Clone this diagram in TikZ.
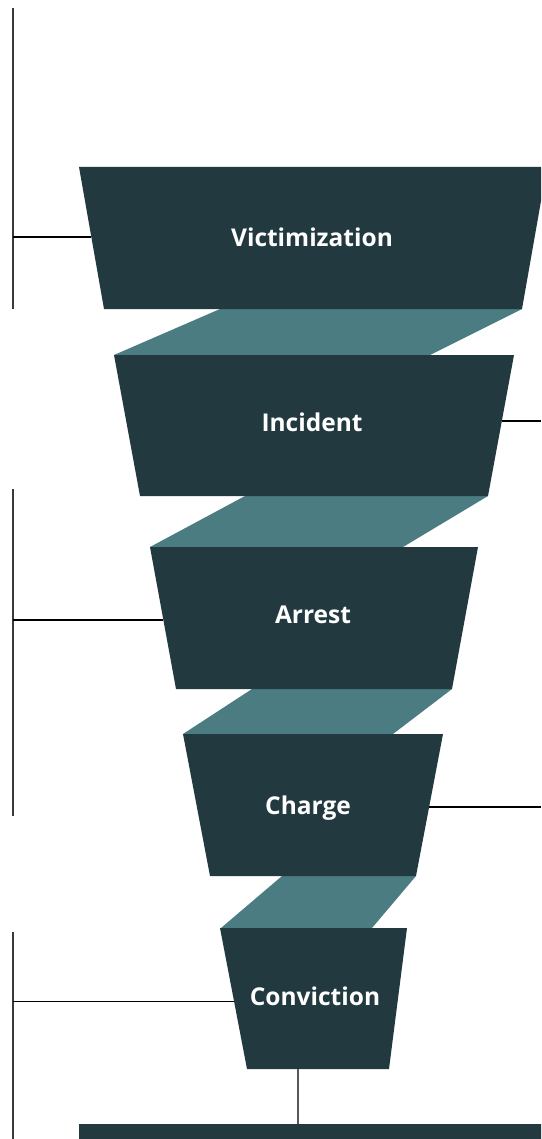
\documentclass[tikz,border=0pt]{standalone}
\usepackage{fontspec}
\setmainfont{Open Sans}
\usetikzlibrary{calc}
\definecolor{stagefill}{HTML}{223A3F}
\definecolor{linkfill}{HTML}{4A7C81}
\definecolor{rulegray}{HTML}{3A3A3A}
\begin{document}
\begin{tikzpicture}[x=1pt,y=-1pt,
  stage/.style={fill=stagefill},
  link/.style={fill=linkfill},
  stagelabel/.style={text=white,font=\bfseries\fontsize{24.5}{28}\selectfont,anchor=base,inner sep=0pt},
  bracket/.style={draw=rulegray,line width=1.3pt},
  leader/.style={draw=black,line width=1.1pt}]
\useasboundingbox (0,0) rectangle (541,1139);
\begin{scope}
\clip (0,0) rectangle (541,1139);
% connecting bands between stages
\fill[link] (220,309) -- (522,309) -- (430,355) -- (114,355) -- cycle;
\fill[link] (245,496) -- (488,496) -- (403,547) -- (150,547) -- cycle;
\fill[link] (252,689) -- (452,689) -- (393,734) -- (183,734) -- cycle;
\fill[link] (282,876) -- (416,876) -- (372,928) -- (221,928) -- cycle;
% funnel stages
\fill[stage] (79,167) coordinate (vtl) -- (547,167) -- (522,309) -- (104,309) coordinate (vbl) -- cycle;
\fill[stage] (114,355) -- (514,355) coordinate (itr) -- (488,496) coordinate (ibr) -- (140,496) -- cycle;
\fill[stage] (150,547) coordinate (atl) -- (478,547) -- (452,689) -- (176,689) coordinate (abl) -- cycle;
\fill[stage] (183,734) -- (443,734) coordinate (ctr) -- (416,876) coordinate (cbr) -- (210,876) -- cycle;
\fill[stage] (220,928) coordinate (ktl) -- (407,928) -- (389,1069) -- (247,1069) coordinate (kbl) -- cycle;
% base bar
\fill[stage] (79,1124) rectangle (560,1145);
\end{scope}
% stage labels
\node[stagelabel] (victim) at (312,247) {Victimization};
\node[stagelabel] (incident) at (312,431) {Incident};
\node[stagelabel] (arrest) at (313,623) {Arrest};
\node[stagelabel] (charge) at (308,814) {Charge};
\node[stagelabel] (convict) at (315,1005) {Conviction};
% attachment points on the stage edges
\coordinate (vl) at ($(vtl)!0.493!(vbl)$);
\coordinate (ir) at ($(itr)!0.468!(ibr)$);
\coordinate (al) at ($(atl)!0.514!(abl)$);
\coordinate (cr) at ($(ctr)!0.514!(cbr)$);
\coordinate (kl) at ($(ktl)!0.52!(kbl)$);
\coordinate (kb) at (298,1069);
\coordinate (bar) at (298,1124);
% side brackets
\draw[bracket] (13,8) coordinate (b1t) -- (13,309) coordinate (b1b);
\draw[bracket] (13,489) coordinate (b2t) -- (13,816) coordinate (b2b);
\draw[bracket] (13,932) coordinate (b3t) -- (13,1139) coordinate (b3b);
\coordinate (r1) at (541,0);
% leaders
\draw[leader] (vl) -- (vl -| b1t);
\draw[leader] (ir) -- (ir -| r1);
\draw[leader] (al) -- (al -| b2t);
\draw[leader] (cr) -- (cr -| r1);
\draw[leader] (kl) -- (kl -| b3t);
\draw[bracket,draw=rulegray!85] (kb) -- (bar);
\end{tikzpicture}
\end{document}
